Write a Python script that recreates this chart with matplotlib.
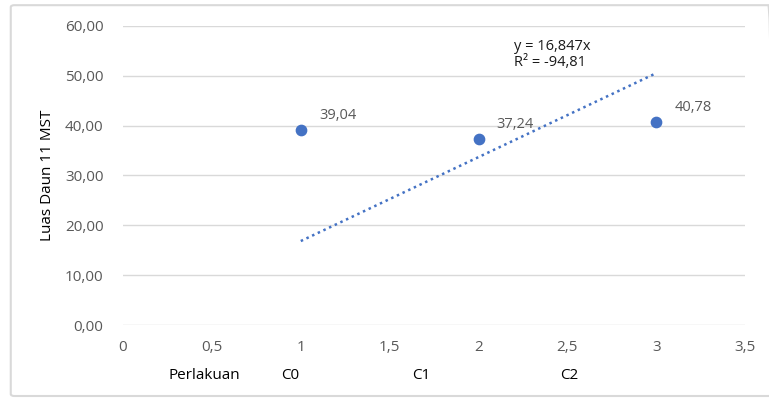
# Scatter of leaf area per treatment, with linear trendline through origin

import numpy as np
import matplotlib.pyplot as plt
from matplotlib.patches import FancyBboxPatch

plt.rcParams["font.family"] = ["Open Sans", "DejaVu Sans"]

# data
x_vals = [1, 2, 3]
y_vals = [39.04, 37.24, 40.78]
point_labels = ["39,04", "37,24", "40,78"]
slope = 16.847
r2_text = "-94,81"
treatments = ["C0", "C1", "C2"]
treatment_x = [0.94, 1.68, 2.51]

y_ticks = [0, 10, 20, 30, 40, 50, 60]
x_ticks = [0, 0.5, 1, 1.5, 2, 2.5, 3, 3.5]

blue = "#4472C4"
grey = "#595959"

fig = plt.figure(figsize=(7.69, 3.98), dpi=100)
ax = fig.add_axes([0.16, 0.1834, 0.809, 0.7513])

# chart border
fig.patches.append(FancyBboxPatch(
    (0.014, 0.005), 0.99, 0.982, boxstyle="round,pad=0,rounding_size=0.005",
    transform=fig.transFigure, fill=False, edgecolor="#d9d9d9", linewidth=1.5))

ax.scatter(x_vals, y_vals, s=55, color=blue, zorder=3)

# trendline
tx = np.array([x_vals[0], x_vals[-1]])
ax.plot(tx, slope * tx, linestyle=(0, (1, 1.5)), color=blue, linewidth=1.8, zorder=2)

for x, y, lab in zip(x_vals, y_vals, point_labels):
    ax.annotate(lab, (x, y), xytext=(13, 8), textcoords="offset points",
                fontsize=10.5, color=grey)

ax.text(2.2, 54.3, "y = 16,847x\nR² = " + r2_text, fontsize=10.5,
        color="#1a1a1a", linespacing=1.15, va="center")

ax.set_xlim(0, 3.5)
ax.set_ylim(0, 60)
ax.set_yticks(y_ticks)
ax.set_yticklabels([f"{v:.2f}".replace(".", ",") for v in y_ticks])
ax.set_xticks(x_ticks)
ax.set_xticklabels([f"{v:g}".replace(".", ",") for v in x_ticks])
ax.tick_params(length=0, labelsize=11, colors=grey, pad=11)
ax.tick_params(axis="y", pad=14)
ax.grid(axis="y", color="#d9d9d9", linewidth=1)
ax.set_axisbelow(True)
for s in ax.spines.values():
    s.set_visible(False)

ax.set_ylabel("Luas Daun 11 MST", fontsize=11, color="black", labelpad=7)

# bottom labels
trans = ax.get_xaxis_transform()
ax.text(0.46, -0.17, "Perlakuan", transform=trans, fontsize=11, ha="center", va="center")
for t, xp in zip(treatments, treatment_x):
    ax.text(xp, -0.17, t, transform=trans, fontsize=11, ha="center", va="center")

fig.savefig("out.png", dpi=100)
